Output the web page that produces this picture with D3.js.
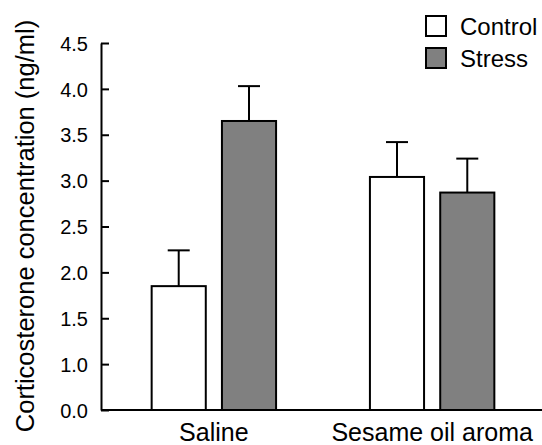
<html>
<head>
<script src="https://d3js.org/d3.v7.min.js"></script>
<style>
  body { margin: 0; background: #fff; }
  text { font-family: "Liberation Sans", Arial, sans-serif; fill: #000; }
</style>
</head>
<body>
<svg id="chart" width="542" height="445"></svg>
<script>
// data
var groups = ["Saline", "Sesame oil aroma"];
var series = ["Control", "Stress"];
var controlMean = [1.85, 3.04];
var stressMean = [3.65, 2.87];
var controlSem = [0.39, 0.38];
var stressSem = [0.38, 0.37];
var yTicks = [0, 1.0, 1.5, 2.0, 2.5, 3.0, 3.5, 4.0, 4.5];
var colors = ["#ffffff", "#808080"];

var svg = d3.select("#chart");
var margin = {top: 43, left: 101, right: 0, bottom: 35};
var width = 542 - margin.left - margin.right;
var height = 445 - margin.top - margin.bottom;

var g = svg.append("g")
    .attr("transform", "translate(" + margin.left + "," + margin.top + ")");

// axis has a compressed section between 0 and 1 (as in the figure)
var step = height / 8;
var y = d3.scaleLinear()
    .domain([0, 1, 4.5])
    .range([height, height - step, 0]);

var x0 = d3.scaleBand()
    .domain(groups)
    .range([7, 437])
    .paddingInner(0.43)
    .paddingOuter(0.2);

var x1 = d3.scaleBand()
    .domain(series)
    .range([0, x0.bandwidth()])
    .paddingInner(0.23);

var rows = [];
groups.forEach(function(grp, i) {
  rows.push({group: grp, s: "Control", v: controlMean[i], e: controlSem[i], c: colors[0]});
  rows.push({group: grp, s: "Stress", v: stressMean[i], e: stressSem[i], c: colors[1]});
});

// error bars (upper only), drawn first so bars sit on top
var eb = g.selectAll(".err").data(rows).enter().append("g").attr("class", "err");
eb.append("line")
    .attr("x1", function(d) { return x0(d.group) + x1(d.s) + x1.bandwidth() / 2; })
    .attr("x2", function(d) { return x0(d.group) + x1(d.s) + x1.bandwidth() / 2; })
    .attr("y1", function(d) { return y(d.v); })
    .attr("y2", function(d) { return y(d.v + d.e); })
    .attr("stroke", "#000").attr("stroke-width", 2);
eb.append("line")
    .attr("x1", function(d) { return x0(d.group) + x1(d.s) + x1.bandwidth() / 2 - 11; })
    .attr("x2", function(d) { return x0(d.group) + x1(d.s) + x1.bandwidth() / 2 + 11; })
    .attr("y1", function(d) { return y(d.v + d.e); })
    .attr("y2", function(d) { return y(d.v + d.e); })
    .attr("stroke", "#000").attr("stroke-width", 2);

g.selectAll(".bar").data(rows).enter().append("rect")
    .attr("class", "bar")
    .attr("x", function(d) { return x0(d.group) + x1(d.s); })
    .attr("y", function(d) { return y(d.v); })
    .attr("width", x1.bandwidth())
    .attr("height", function(d) { return y(0) - y(d.v); })
    .attr("fill", function(d) { return d.c; })
    .attr("stroke", "#000")
    .attr("stroke-width", 2);

// y axis
var yAxis = g.append("g")
    .call(d3.axisLeft(y).tickValues(yTicks).tickSizeInner(-8).tickSizeOuter(0)
      .tickPadding(13).tickFormat(d3.format(".1f")));
yAxis.select(".domain").attr("stroke-width", 2);
yAxis.selectAll(".tick line").attr("stroke-width", 2);
yAxis.selectAll("text").style("font-size", "20px").attr("dy", "0.36em");

// x axis
var xAxis = g.append("g")
    .attr("transform", "translate(0," + height + ")")
    .call(d3.axisBottom(x0).tickSize(0).tickPadding(13));
xAxis.select(".domain").attr("stroke-width", 2).attr("d", "M0,0H" + width);
xAxis.selectAll("text").style("font-size", "25px");

// y label
svg.append("text")
    .attr("transform", "translate(34," + 226 + ") rotate(-90)")
    .attr("text-anchor", "middle")
    .style("font-size", "25.5px")
    .text("Corticosterone concentration (ng/ml)");

// legend
var legend = svg.append("g").attr("transform", "translate(426,16)");
var li = legend.selectAll(".li").data(series).enter().append("g")
    .attr("transform", function(d, i) { return "translate(0," + i * 32 + ")"; });
li.append("rect")
    .attr("width", 20).attr("height", 20)
    .attr("fill", function(d, i) { return colors[i]; })
    .attr("stroke", "#000").attr("stroke-width", 2);
li.append("text")
    .attr("x", 34).attr("y", 19)
    .style("font-size", "24px")
    .text(function(d) { return d; });
</script>
</body>
</html>
